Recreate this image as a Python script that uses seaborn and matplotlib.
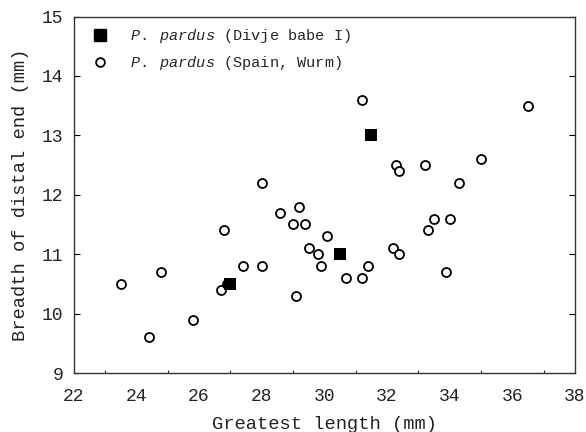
import matplotlib
matplotlib.use("Agg")
import matplotlib.pyplot as plt
import seaborn as sns
import numpy as np
from matplotlib.ticker import MultipleLocator
from matplotlib.lines import Line2D

# Data
divje_x = [27.0, 30.5, 31.5]
divje_y = [10.5, 11.0, 13.0]

spain_x = [23.5, 24.4, 24.8, 25.8, 26.7, 26.8, 26.9, 27.4, 28.0, 28.0,
           28.6, 29.0, 29.2, 29.4, 29.5, 29.8, 29.9, 30.1, 29.1, 30.7,
           31.2, 31.2, 31.4, 32.2, 32.4, 32.3, 32.4, 33.2, 33.3, 33.5,
           34.0, 33.9, 34.3, 35.0, 36.5]
spain_y = [10.5, 9.6, 10.7, 9.9, 10.4, 11.4, 10.5, 10.8, 12.2, 10.8,
           11.7, 11.5, 11.8, 11.5, 11.1, 11.0, 10.8, 11.3, 10.3, 10.6,
           10.6, 13.6, 10.8, 11.1, 11.0, 12.5, 12.4, 12.5, 11.4, 11.6,
           11.6, 10.7, 12.2, 12.6, 13.5]

x_ticks = [22, 24, 26, 28, 30, 32, 34, 36, 38]
y_ticks = [9, 10, 11, 12, 13, 14, 15]

sns.set_style("white")
plt.rcParams['font.family'] = ['Liberation Mono', 'DejaVu Sans Mono']
plt.rcParams['mathtext.fontset'] = 'custom'
plt.rcParams['mathtext.rm'] = 'Liberation Mono'
plt.rcParams['mathtext.it'] = 'Liberation Mono:italic'

fig = plt.figure(figsize=(5.86, 4.32), dpi=100)
ax = fig.add_axes([73.5/586, 1 - 373/432, (575 - 73.5)/586, (373 - 16.5)/432])

sns.scatterplot(x=spain_x, y=spain_y, ax=ax, marker='o', s=42,
                facecolor='white', edgecolor='black', linewidth=1.3, zorder=3)
sns.scatterplot(x=divje_x, y=divje_y, ax=ax, marker='s', s=75,
                color='black', edgecolor='black', linewidth=0, zorder=4)

ax.set_xlim(22, 38)
ax.set_ylim(9, 15)
ax.set_xticks(x_ticks)
ax.set_yticks(y_ticks)
ax.xaxis.set_minor_locator(MultipleLocator(1))
ax.tick_params(axis='both', which='major', direction='in', length=4, width=0.8,
               labelsize=13, colors='black')
ax.tick_params(axis='x', which='major', pad=11)
ax.tick_params(axis='y', which='major', pad=7.5, right=True, left=True)
ax.tick_params(axis='x', which='minor', direction='in', length=2.5, width=0.8, bottom=True)
for lab in ax.get_xticklabels() + ax.get_yticklabels():
    lab.set_color('#222222')

for sp in ax.spines.values():
    sp.set_color('#333333')
    sp.set_linewidth(1.0)

ax.set_xlabel('Greatest length (mm)', fontsize=13.5, labelpad=8, color='#222222')
ax.set_ylabel('Breadth of distal end (mm)', fontsize=13.5, labelpad=9, color='#222222')

handles = [
    Line2D([], [], marker='s', linestyle='none', markersize=8.5,
           markerfacecolor='black', markeredgecolor='black'),
    Line2D([], [], marker='o', linestyle='none', markersize=6.3,
           markerfacecolor='white', markeredgecolor='black', markeredgewidth=1.3),
]
labels = [r'$\mathit{P.}$ $\mathit{pardus}$ (Divje babe I)',
          r'$\mathit{P.}$ $\mathit{pardus}$ (Spain, Wurm)']
ax.legend(handles, labels, loc='upper left', bbox_to_anchor=(6/501.5, 1.0),
          frameon=False, fontsize=11,
          handletextpad=1.35, borderaxespad=0.3, labelspacing=0.6,
          handlelength=1.25, borderpad=0.4)

fig.savefig('out.png', dpi=100)
